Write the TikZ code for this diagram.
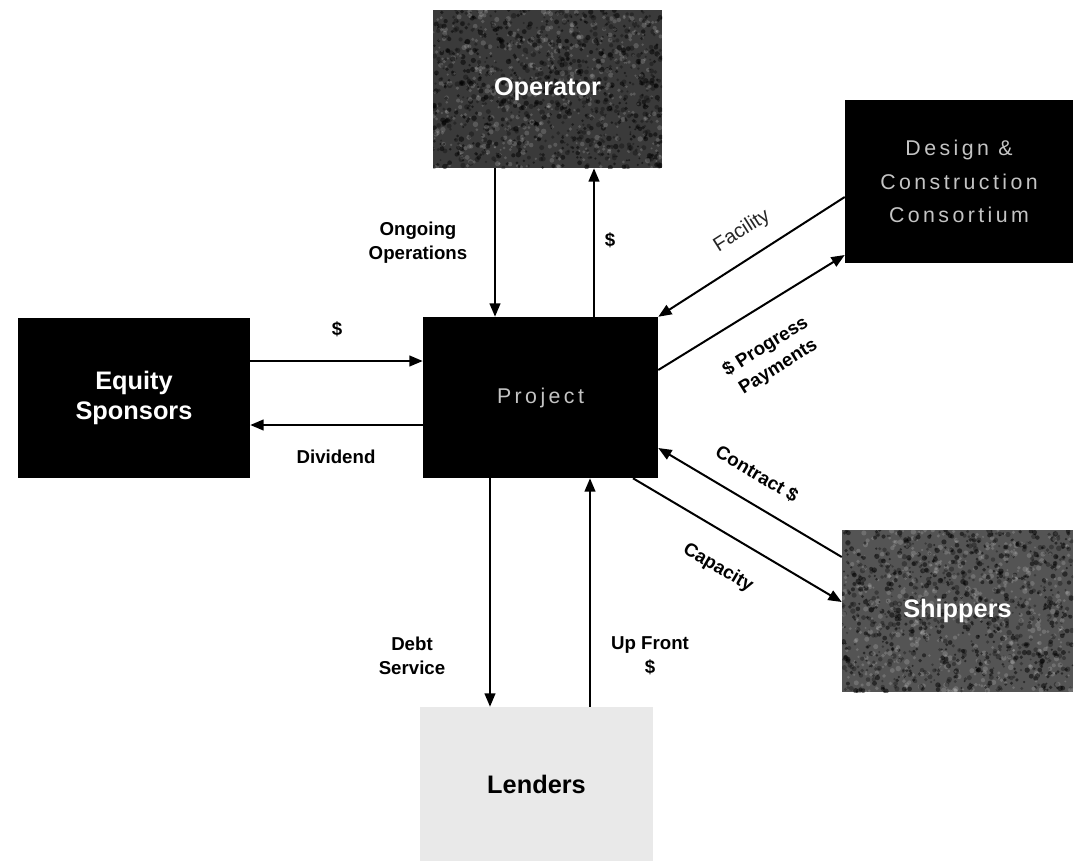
\documentclass[tikz,border=0pt]{standalone}
\usepackage{fontspec}
\setmainfont{Liberation Sans}
\newfontfamily\spaced[LetterSpace=16]{Liberation Sans}
\usetikzlibrary{arrows.meta}
\pgfdeclarelayer{background}
\pgfsetlayers{background,main}
\definecolor{opgray}{HTML}{3A3A3A}
\definecolor{shgray}{HTML}{545454}
\definecolor{lngray}{HTML}{E9E9E9}
\definecolor{dimtext}{HTML}{C4C4C4}
\newcommand{\specks}[5]{%
  \begin{scope}
  \clip (#1,#2) rectangle ({#1+#3},{#2+#4});
  \pgfmathsetseed{#5}
  \foreach \i in {1,...,1500}{
    \pgfmathsetmacro\xx{#1+#3*rnd}
    \pgfmathsetmacro\yy{#2+#4*rnd}
    \pgfmathsetmacro\rr{1+1.8*rnd}
    \pgfmathtruncatemacro\cc{mod(\i,3)}
    \ifnum\cc=0 \fill[black, opacity=.5] (\xx,\yy) circle (\rr);
    \else\ifnum\cc=1 \fill[white, opacity=.16] (\xx,\yy) circle (\rr);
    \else \fill[black, opacity=.3] (\xx,\yy) circle (\rr); \fi\fi
  }
  \end{scope}}
\begin{document}
\begin{tikzpicture}[x=0.75pt,y=-0.75pt,
  box/.style={draw=none, inner sep=0pt, align=center, font=\bfseries\fontsize{19}{23}\selectfont},
  arr/.style={line width=1.5pt, -{Triangle[length=10pt,width=8pt]}},
  lbl/.style={align=center, inner sep=0pt, font=\bfseries\fontsize{14}{18}\selectfont},
  lblr/.style={align=center, inner sep=0pt, font=\fontsize{15}{18}\selectfont}]
\useasboundingbox (0,0) rectangle (1078,861);

\node[box, text=white, minimum width=171.75pt, minimum height=118.5pt] (op) at (547.5,89) {Operator};
\node[box, fill=black, text=dimtext, minimum width=171pt, minimum height=122.25pt,
      font=\spaced\fontsize{16}{25}\selectfont] (dc) at (959,181.5) {Design \&\\Construction\\Consortium};
\node[box, fill=black, text=white, minimum width=174pt, minimum height=120pt] (eq) at (134,398) {Equity\\Sponsors};
\node[box, fill=black, text=dimtext, minimum width=176.25pt, minimum height=120.75pt,
      font=\spaced\fontsize{16}{20}\selectfont] (pr) at (540.5,397.5) {Project};
\node[box, text=white, minimum width=173.25pt, minimum height=121.5pt] (sh) at (957.5,611) {Shippers};
\node[box, fill=lngray, text=black, minimum width=174.75pt, minimum height=115.5pt] (ln) at (536.5,784) {Lenders};

\begin{pgfonlayer}{background}
  \fill[white] (0,0) rectangle (1078,861);
  \fill[opgray] (op.south west) rectangle (op.north east);
  \specks{433}{10}{229}{158}{11}
  \fill[shgray] (sh.south west) rectangle (sh.north east);
  \specks{842}{530}{231}{162}{23}
\end{pgfonlayer}

% vertical: operator
\draw[arr] (op.south -| 495,0) -- (pr.north -| 495,0);
\draw[arr] (pr.north -| 594,0) -- (op.south -| 594,0);
% horizontal: equity
\draw[arr] (eq.east |- 0,361) -- (pr.west |- 0,361);
\draw[arr] (pr.west |- 0,425) -- (eq.east |- 0,425);
% diagonal: design
\draw[arr] (dc.west |- 0,197) -- (pr.north east);
\draw[arr] (pr.east |- 0,370) -- (dc.west |- 0,255);
% diagonal: shippers
\draw[arr] (sh.west |- 0,557) -- (pr.east |- 0,448);
\draw[arr] (pr.south -| 633,0) -- (sh.west |- 0,602);
% vertical: lenders
\draw[arr] (pr.south -| 490,0) -- (ln.north -| 490,0);
\draw[arr] (ln.north -| 590,0) -- (pr.south -| 590,0);

\node[lbl] (l1) at (418,243) {Ongoing\\Operations};
\node[lbl] (l2) at (610,240) {\$};
\node[lbl] (l3) at (337,329) {\$};
\node[lbl] (l4) at (336,457) {Dividend};
\node[lbl] (l5) at (412,656) {Debt\\Service};
\node[lbl] (l6) at (650,656) {Up Front\\\$};
\node[lblr, text=black!85, rotate=32.5] (l7) at (742,231) {Facility};
\node[lbl, rotate=32] (l8) at (772,357) {\$ Progress\\Payments};
\node[lbl, rotate=-30.6] (l9) at (757,474) {Contract \$};
\node[lbl, rotate=-30.6] (l10) at (718,568) {Capacity};
\end{tikzpicture}
\end{document}
